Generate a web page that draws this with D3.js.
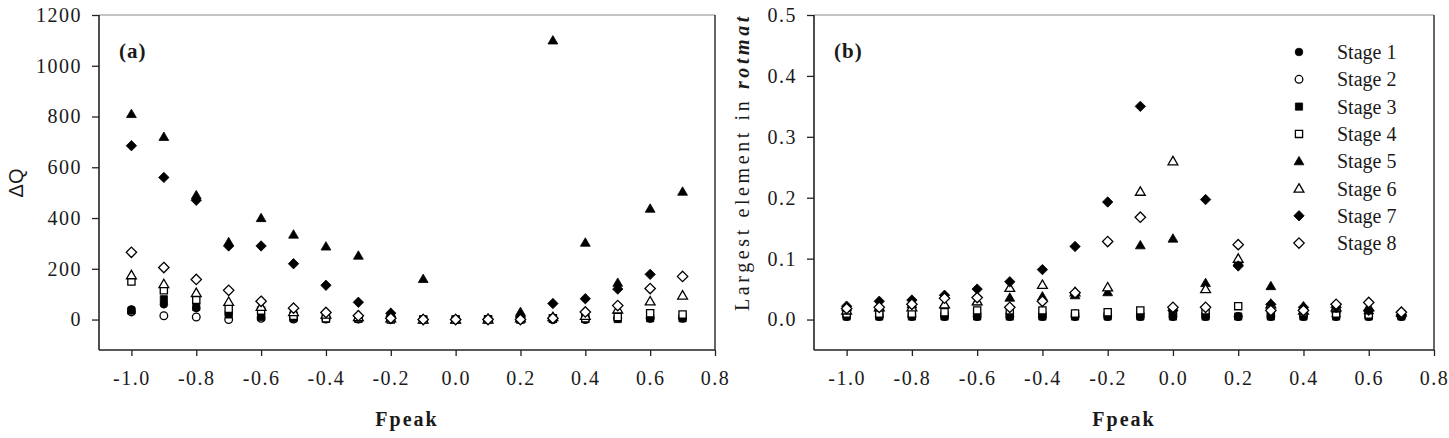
<!DOCTYPE html>
<html><head><meta charset="utf-8">
<script src="https://cdn.jsdelivr.net/npm/d3@7"></script>
<style>body{margin:0;background:#fff}text{font-family:"Liberation Serif","Times New Roman",serif;fill:#1a1a1a}</style>
</head><body>
<svg id="c" width="1449" height="438"></svg>
<script>
// ---- data ----
const fpeak = [-1.0,-0.9,-0.8,-0.7,-0.6,-0.5,-0.4,-0.3,-0.2,-0.1,0.0,0.1,0.2,0.3,0.4,0.5,0.6,0.7];
const stageNames = ["Stage 1","Stage 2","Stage 3","Stage 4","Stage 5","Stage 6","Stage 7","Stage 8"];
// panel (a): ΔQ
const dqStage1 = [40,60,45,20,12,3,3,2,8,0,0,0,5,0,2,5,5,10];
const dqStage2 = [30,15,10,0,5,2,2,2,0,0,0,0,0,0,0,5,5,5];
const dqStage3 = [35,80,50,20,10,5,3,3,5,0,0,2,5,2,2,2,5,5];
const dqStage4 = [150,115,78,42,35,15,5,5,0,0,0,0,0,5,5,10,25,20];
const dqStage5 = [810,720,490,305,400,335,288,252,25,160,0,5,30,1100,303,145,437,504];
const dqStage6 = [175,140,105,70,50,30,20,10,5,0,0,0,5,10,15,40,72,95];
const dqStage7 = [685,560,470,290,290,220,135,68,25,0,0,2,10,63,82,120,178,null];
const dqStage8 = [265,205,158,115,72,45,28,15,5,0,0,0,0,5,30,55,122,170];
// panel (b): largest element in rotmat
const rmStage1 = [0.010,0.010,0.010,0.010,0.010,0.010,0.010,0.010,0.010,0.010,0.010,0.010,0.005,0.015,0.010,0.010,0.010,0.008];
const rmStage2 = [0.005,0.005,0.005,0.005,0.005,0.005,0.005,0.005,0.005,0.005,0.005,0.005,0.005,0.005,0.005,0.005,0.005,0.005];
const rmStage3 = [0.005,0.005,0.005,0.005,0.005,0.005,0.005,0.005,0.005,0.005,0.005,0.005,0.005,0.005,0.005,0.005,0.005,0.005];
const rmStage4 = [0.010,0.010,0.010,0.012,0.015,0.015,0.015,0.010,0.012,0.015,0.015,0.015,0.022,0.015,0.012,0.010,0.008,0.008];
const rmStage5 = [0.020,0.020,0.025,0.025,0.030,0.036,0.038,0.040,0.045,0.122,0.133,0.060,0.095,0.055,0.022,0.018,0.015,0.010];
const rmStage6 = [0.015,0.020,0.020,0.025,0.030,0.052,0.057,0.045,0.053,0.210,0.260,0.050,0.100,0.025,0.015,0.020,0.020,0.012];
const rmStage7 = [0.022,0.030,0.032,0.040,0.050,0.062,0.082,0.120,0.193,0.350,0.015,0.197,0.088,0.025,0.020,0.020,0.015,0.008];
const rmStage8 = [0.018,0.020,0.025,0.035,0.036,0.020,0.030,0.044,0.128,0.168,0.020,0.020,0.123,0.015,0.015,0.025,0.028,0.012];
const xTickValues = [-1.0,-0.8,-0.6,-0.4,-0.2,0.0,0.2,0.4,0.6,0.8];
const dqTickValues = [0,200,400,600,800,1000,1200];
const rmTickValues = [0.0,0.1,0.2,0.3,0.4,0.5];

// ---- markers ----
const markerDefs = [
  {shape:"circle",filled:true},{shape:"circle",filled:false},
  {shape:"square",filled:true},{shape:"square",filled:false},
  {shape:"triangle",filled:true},{shape:"triangle",filled:false},
  {shape:"diamond",filled:true},{shape:"diamond",filled:false}
];
function markerPath(shape){
  if(shape==="circle") return d3.symbol(d3.symbolCircle, 46)();
  if(shape==="square") return "M-3.6,-3.6H3.6V3.6H-3.6Z";
  if(shape==="triangle") return "M0,-4.8L4.9,3.6L-4.9,3.6Z";
  return "M0,-5.2L5.2,0L0,5.2L-5.2,0Z";
}

const svg = d3.select("#c");

function panel(cfg){
  const x = d3.scaleLinear([-1.1,0.8],[cfg.left,cfg.right]);
  const y = d3.scaleLinear(cfg.ydomain,[350,15]);
  const g = svg.append("g");
  // frame
  g.append("line").attr("x1",cfg.left).attr("x2",cfg.right).attr("y1",15).attr("y2",15).attr("stroke","#8a8a8a").attr("stroke-width",1);
  g.append("line").attr("x1",cfg.right).attr("x2",cfg.right).attr("y1",15).attr("y2",350).attr("stroke","#333").attr("stroke-width",1.5);
  // axes
  const ax = g.append("g").attr("transform",`translate(0,350)`)
    .call(d3.axisBottom(x).tickValues(xTickValues).tickSize(6).tickSizeOuter(0).tickPadding(15)
      .tickFormat(v=>v.toFixed(1)));
  const ay = g.append("g").attr("transform",`translate(${cfg.left},0)`)
    .call(d3.axisLeft(y).tickValues(cfg.yticks).tickSize(7).tickSizeOuter(0).tickPadding(10)
      .tickFormat(cfg.yfmt));
  [ax,ay].forEach(a=>{
    a.select(".domain").attr("stroke","#222").attr("stroke-width",1.6);
    a.selectAll(".tick line").attr("stroke","#222").attr("stroke-width",1.3);
    a.selectAll("text").attr("font-family","Liberation Serif").attr("font-size",20).style("letter-spacing","1.5px").attr("fill","#1a1a1a");
  });
  ay.select(".domain").attr("d",`M0,15V350`);
  ax.select(".domain").attr("d",`M${cfg.left},0H${cfg.right}`);
  // panel tag
  g.append("text").attr("x",cfg.left+20).attr("y",58).attr("font-size",21).attr("font-weight","bold").style("letter-spacing","1px").text(cfg.tag);
  // x title
  g.append("text").attr("x",(cfg.left+cfg.right)/2).attr("y",426).attr("text-anchor","middle")
    .attr("font-size",20).attr("font-weight","bold").style("letter-spacing","2px").text("Fpeak");
  // points
  cfg.series.forEach((vals,i)=>{
    const m = markerDefs[i];
    g.append("g").selectAll("path").data(fpeak.map((f,j)=>({f,v:vals[j]})).filter(d=>d.v!==null))
      .join("path").attr("d",markerPath(m.shape))
      .attr("transform",d=>`translate(${x(d.f)},${y(d.v)})`)
      .attr("fill",m.filled?"#000":"#fff").attr("stroke","#000").attr("stroke-width",m.filled?0.8:1.3);
  });
  return g;
}

panel({left:99,right:715,ydomain:[-120,1200],yticks:dqTickValues,yfmt:d3.format("d"),tag:"(a)",
  series:[dqStage1,dqStage2,dqStage3,dqStage4,dqStage5,dqStage6,dqStage7,dqStage8]});
panel({left:814,right:1434,ydomain:[-0.05,0.5],yticks:rmTickValues,yfmt:v=>v.toFixed(1),tag:"(b)",
  series:[rmStage1,rmStage2,rmStage3,rmStage4,rmStage5,rmStage6,rmStage7,rmStage8]});

// y titles
svg.append("text").attr("transform","translate(23,183) rotate(-90)").attr("text-anchor","middle")
  .style("font-family","'Liberation Sans',Arial,sans-serif").attr("font-size",20).text("ΔQ");
const yt = svg.append("text").attr("transform","translate(749,162) rotate(-90)").attr("text-anchor","middle")
  .attr("font-size",20).style("letter-spacing","3.6px");
yt.append("tspan").text("Largest element in ");
yt.append("tspan").attr("font-weight","bold").attr("font-style","italic").text("rotmat");

// legend
const leg = svg.append("g");
stageNames.forEach((name,i)=>{
  const cy = 52 + i*27.3;
  leg.append("path").attr("d",markerPath(markerDefs[i].shape)).attr("transform",`translate(1299,${cy})`)
    .attr("fill",markerDefs[i].filled?"#000":"#fff").attr("stroke","#000").attr("stroke-width",markerDefs[i].filled?0.8:1.3);
  leg.append("text").attr("x",1337).attr("y",cy+7).attr("font-size",20).text(name);
});
</script>
</body></html>
